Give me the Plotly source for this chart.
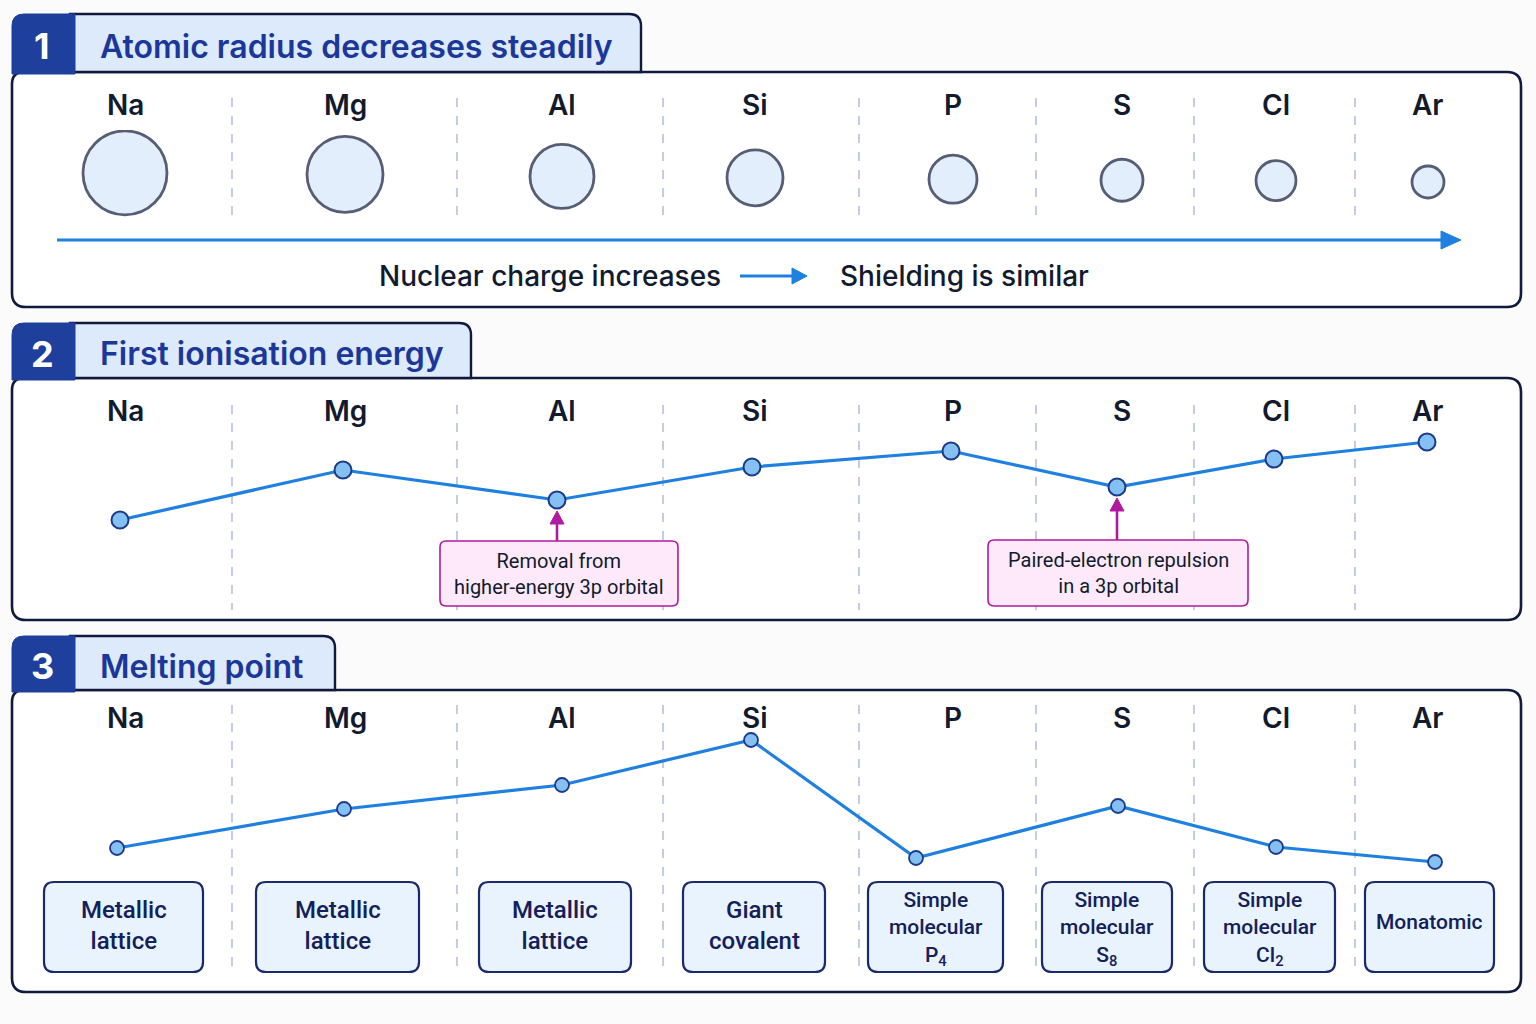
import plotly.graph_objects as go

W, H = 1536, 1024

# ---------------- data ----------------
elements = ["Na", "Mg", "Al", "Si", "P", "S", "Cl", "Ar"]
atomic_radius_rel = [43, 39, 33, 29, 25, 22, 21, 17]          # relative radius
ionisation_rel = [20, 70, 40, 73, 89, 53, 81, 98]             # relative first ionisation energy
melting_rel = [22, 61, 85, 130, 12, 64, 23, 8]                # relative melting point
structures = ["Metallic<br>lattice", "Metallic<br>lattice", "Metallic<br>lattice",
              "Giant<br>covalent", "Simple<br>molecular<br>P<sub>4</sub>",
              "Simple<br>molecular<br>S<sub>8</sub>", "Simple<br>molecular<br>Cl<sub>2</sub>",
              "Monatomic"]
panel_titles = ["Atomic radius decreases steadily", "First ionisation energy", "Melting point"]
ie_notes = {"Al": "Removal from<br>higher-energy 3p orbital",
            "S": "Paired-electron repulsion<br>in a 3p orbital"}

# ---------------- layout constants (pixels) ----------------
col_x = [125, 345, 562, 755, 953, 1122, 1276, 1428]
ie_x = [120, 343, 557, 752, 951, 1117, 1274, 1427]
mp_x = [117, 344, 562, 751, 916, 1118, 1276, 1435]
div_x = [232, 457, 663, 859, 1036, 1194, 1355]
box_x = [(44, 203), (256, 419), (479, 631), (683, 825), (868, 1003), (1042, 1172), (1204, 1335), (1365, 1494)]

NAVY = "#101a3c"
HEADBLUE = "#1f3f9c"
TITLEBLUE = "#1b379a"
TABFILL = "#dceafb"
LINEBLUE = "#1f80e0"
DOTFILL = "#85c0f3"
DOTEDGE = "#1b3a8a"
MAGENTA = "#b01a9e"
PINK = "#fde9f9"
TEXT = "#111a2e"


def px(x):
    return x / W


def py(y):
    return 1 - y / H


def rrect(x0, y0, x1, y1, r=(12, 12, 12, 12)):
    tl, tr, br, bl = r
    p = f"M {px(x0+tl)},{py(y0)} L {px(x1-tr)},{py(y0)} Q {px(x1)},{py(y0)} {px(x1)},{py(y0+tr)} "
    p += f"L {px(x1)},{py(y1-br)} Q {px(x1)},{py(y1)} {px(x1-br)},{py(y1)} "
    p += f"L {px(x0+bl)},{py(y1)} Q {px(x0)},{py(y1)} {px(x0)},{py(y1-bl)} "
    p += f"L {px(x0)},{py(y0+tl)} Q {px(x0)},{py(y0)} {px(x0+tl)},{py(y0)} Z"
    return p


shapes = []
annotations = []


def add_shape_path(path, fill, line_color, line_width):
    shapes.append(dict(type="path", path=path, xref="paper", yref="paper",
                       fillcolor=fill, line=dict(color=line_color, width=line_width), layer="below"))


def add_line(x0, y0, x1, y1, color, width, dash="solid", layer="below"):
    shapes.append(dict(type="line", xref="paper", yref="paper", x0=px(x0), y0=py(y0), x1=px(x1), y1=py(y1),
                       line=dict(color=color, width=width, dash=dash), layer=layer))


def add_tri_right(x, y, L, hh, color):
    path = f"M {px(x-L)},{py(y-hh)} L {px(x)},{py(y)} L {px(x-L)},{py(y+hh)} Z"
    shapes.append(dict(type="path", path=path, xref="paper", yref="paper", fillcolor=color,
                       line=dict(color=color, width=1), layer="above"))


def add_tri_up(x, y, L, hw, color):
    path = f"M {px(x-hw)},{py(y+L)} L {px(x)},{py(y)} L {px(x+hw)},{py(y+L)} Z"
    shapes.append(dict(type="path", path=path, xref="paper", yref="paper", fillcolor=color,
                       line=dict(color=color, width=1), layer="above"))


def text(x, y, s, size, color=TEXT, family="Inter", weight=600, xanchor="center"):
    annotations.append(dict(x=px(x), y=py(y), xref="paper", yref="paper", text=s, showarrow=False,
                            xanchor=xanchor, yanchor="middle", align="center",
                            font=dict(size=size, color=color, family=family, weight=weight)))


# panels: (header top, box top, box bottom, tab right)
panels = [(14, 72, 307, 641), (323, 378, 620, 471), (636, 690, 992, 335)]
div_ranges = [(98, 215), (405, 610), (705, 975)]
label_y = [105, 411, 718]

for i, (ht, bt, bb, tabr) in enumerate(panels):
    # main box
    add_shape_path(rrect(12, bt, 1521, bb, (12, 14, 14, 14)), "#ffffff", NAVY, 2.6)
    # tab
    add_shape_path(rrect(70, ht, tabr, bt, (0, 12, 0, 0)), TABFILL, NAVY, 2.4)
    # number box
    add_shape_path(rrect(12, ht, 75, bt + 2, (12, 0, 0, 0)), HEADBLUE, HEADBLUE, 1)
    text(42, (ht + bt) / 2 + 3, str(i + 1), 36, "#ffffff", "Inter", 700)
    text(98, (ht + bt) / 2 + 3, panel_titles[i], 32, TITLEBLUE, "Inter", 600, xanchor="left")
    # element labels
    for e, x in zip(elements, col_x):
        text(x, label_y[i], e, 28, TEXT, "Inter", 600)
    # dividers
    for x in div_x:
        add_line(x, div_ranges[i][0], x, div_ranges[i][1], "#8ea6cf", 1.1, "dash")

# panel 1 arrow and caption
add_line(57, 240, 1444, 240, LINEBLUE, 3.2)
add_tri_right(1461, 240, 20, 9, LINEBLUE)
text(550, 276, "Nuclear charge increases", 28, TEXT, "Inter", 500)
add_line(740, 276, 794, 276, LINEBLUE, 3)
add_tri_right(807, 276, 15, 8, LINEBLUE)
text(964, 276, "Shielding is similar", 28, TEXT, "Inter", 500)

# panel 2 notes
note_boxes = {"Al": (440, 541, 678, 606), "S": (988, 540, 1248, 606)}
for e, note in ie_notes.items():
    k = elements.index(e)
    x = ie_x[k]
    x0, y0, x1, y1 = note_boxes[e]
    add_shape_path(rrect(x0, y0, x1, y1, (6, 6, 6, 6)), PINK, MAGENTA, 1.6)
    ypt = 540 - ionisation_rel[k]
    add_line(x, y0, x, ypt + 20, MAGENTA, 2.6, layer="above")
    add_tri_up(x, ypt + 11, 13, 7, MAGENTA)
    text((x0 + x1) / 2, (y0 + y1) / 2, note, 20, TEXT, "Roboto", 400)

# panel 3 structure boxes
for s, (x0, x1) in zip(structures, box_x):
    add_shape_path(rrect(x0, 882, x1, 972, (10, 10, 10, 10)), "#e9f3fd", "#1a2a6a", 2.2)
    nlines = s.count("<br>") + 1
    if nlines == 3:
        size, yc = 21, 929
    elif nlines == 2:
        size, yc = 24, 925
    else:
        size, yc = 21, 922
    text((x0 + x1) / 2, yc, s, size, "#13205a", "Roboto", 500)

# ---------------- traces ----------------
fig = go.Figure()

# panel 1: circles (y axis: value 0 at px 230, 100 at px 130)
circle_y = [48 + 0.35 * (r - 17) for r in atomic_radius_rel]
fig.add_trace(go.Scatter(x=col_x, y=circle_y, mode="markers", xaxis="x", yaxis="y",
                         marker=dict(size=[2 * r - 2 for r in atomic_radius_rel], color="#d6e8fb",
                                     line=dict(color=NAVY, width=2.8)),
                         hoverinfo="skip", showlegend=False))

# panel 2: ionisation line
fig.add_trace(go.Scatter(x=ie_x, y=ionisation_rel, mode="lines+markers", xaxis="x", yaxis="y2",
                         line=dict(color=LINEBLUE, width=3.2),
                         marker=dict(size=17, color=DOTFILL, line=dict(color=DOTEDGE, width=2)),
                         hoverinfo="skip", showlegend=False))

# panel 3: melting line
fig.add_trace(go.Scatter(x=mp_x, y=melting_rel, mode="lines+markers", xaxis="x", yaxis="y3",
                         line=dict(color=LINEBLUE, width=3.2),
                         marker=dict(size=14, color=DOTFILL, line=dict(color=DOTEDGE, width=1.8)),
                         hoverinfo="skip", showlegend=False))

hidden = dict(visible=False, showgrid=False, zeroline=False, fixedrange=True)
fig.update_layout(
    width=W, height=H,
    margin=dict(l=0, r=0, t=0, b=0),
    paper_bgcolor="#fbfbfc", plot_bgcolor="rgba(0,0,0,0)",
    xaxis=dict(range=[0, W], domain=[0, 1], **hidden),
    yaxis=dict(range=[0, 100], domain=[py(230), py(130)], anchor="x", **hidden),
    yaxis2=dict(range=[0, 110], domain=[py(540), py(430)], anchor="x", **hidden),
    yaxis3=dict(range=[0, 140], domain=[py(870), py(730)], anchor="x", **hidden),
    shapes=shapes, annotations=annotations,
)

fig.write_html("out.html", config={"displayModeBar": False},
               post_script="document.body.style.margin='0';document.body.style.overflow='hidden';")
